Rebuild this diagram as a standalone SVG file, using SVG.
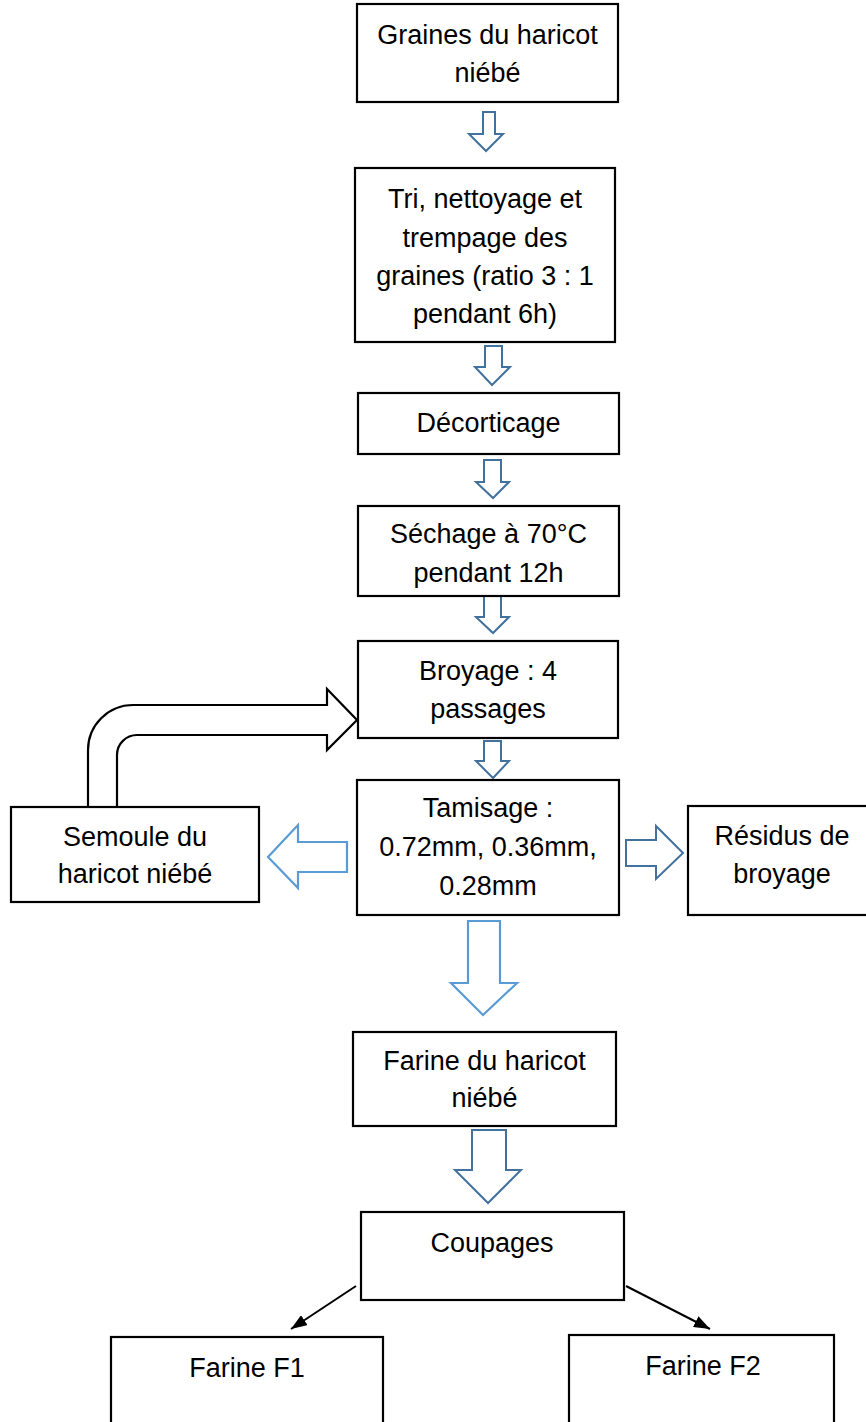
<svg xmlns="http://www.w3.org/2000/svg" width="866" height="1422" viewBox="0 0 866 1422">
<style>
.box{fill:#fff;stroke:#000;stroke-width:2.2}
.t{font-family:"Liberation Sans",Arial,sans-serif;font-size:27px;fill:#000;text-anchor:middle}
.ad{fill:#fff;stroke:#41719C;stroke-width:2}
.al{fill:#fff;stroke:#5B9BD5;stroke-width:2.2}
.bent{fill:#fff;stroke:#000;stroke-width:2.2;stroke-linejoin:miter}
.ln{stroke:#000;stroke-width:2;fill:none}
</style>
<defs>
<marker id="ah" viewBox="0 0 16 12" refX="16" refY="6" markerWidth="16" markerHeight="12" orient="auto" markerUnits="userSpaceOnUse">
<path d="M0,0 L16,6 L0,12 Z" fill="#000"/>
</marker>
</defs>
<rect width="866" height="1422" fill="#fff"/>

<g id="connectors">
<path class="ad" d="M483,112 H495 V134 H503 L486,151 L469,134 H483 Z"/>
<path class="ad" d="M485,346 H502 V367 H510 L492,385 L475,367 H485 Z"/>
<path class="ad" d="M484,460 H501 V482 H509 L493,498 L476,482 H484 Z"/>
<path class="ad" d="M484,596 H501 V617 H509 L493,633 L476,617 H484 Z"/>
<path class="ad" d="M484,741 H501 V761 H509 L493,778 L476,761 H484 Z"/>
<path class="bent" d="M88,807 V750 A45,45 0 0 1 133,705 H327 V689 L357,720 L327,750 V735 H137 A20,20 0 0 0 117,755 V807"/>
<path class="al" d="M347,842 H298 V825 L268,857 L298,888 V872 H347 Z"/>
<path class="ad" d="M626,840 H656 V826 L683,853 L656,879 V866 H626 Z"/>
<path class="al" d="M468,921 H500 V983 H517 L483,1015 L451,983 H468 Z"/>
<path class="ad" d="M472,1130 H506 V1170 H521 L488,1203 L455,1170 H472 Z"/>
<line class="ln" x1="356" y1="1286" x2="291" y2="1329" marker-end="url(#ah)"/>
<line class="ln" x1="626" y1="1286" x2="710" y2="1329" marker-end="url(#ah)"/>
</g>

<g id="n1">
<rect class="box" x="357" y="4" width="261" height="98"/>
<text class="t" x="487.5" y="44">Graines du haricot</text>
<text class="t" x="487.5" y="82">niébé</text>
</g>
<g id="n2">
<rect class="box" x="355" y="168" width="260" height="174"/>
<text class="t" x="485" y="208">Tri, nettoyage et</text>
<text class="t" x="485" y="247">trempage des</text>
<text class="t" x="485" y="285">graines (ratio 3 : 1</text>
<text class="t" x="485" y="323">pendant 6h)</text>
</g>
<g id="n3">
<rect class="box" x="358" y="393" width="261" height="61"/>
<text class="t" x="488.5" y="432">Décorticage</text>
</g>
<g id="n4">
<rect class="box" x="358" y="506" width="261" height="90"/>
<text class="t" x="488.5" y="543">Séchage à 70°C</text>
<text class="t" x="488.5" y="582">pendant 12h</text>
</g>
<g id="n5">
<rect class="box" x="358" y="641" width="260" height="97"/>
<text class="t" x="488" y="680">Broyage : 4</text>
<text class="t" x="488" y="718">passages</text>
</g>
<g id="n6">
<rect class="box" x="357" y="780" width="262" height="135"/>
<text class="t" x="488" y="817">Tamisage :</text>
<text class="t" x="488" y="856">0.72mm, 0.36mm,</text>
<text class="t" x="488" y="895">0.28mm</text>
</g>
<g id="n7">
<rect class="box" x="11" y="807" width="248" height="95"/>
<text class="t" x="135" y="846">Semoule du</text>
<text class="t" x="135" y="883">haricot niébé</text>
</g>
<g id="n8">
<rect class="box" x="688" y="806" width="188" height="109"/>
<text class="t" x="782" y="845">Résidus de</text>
<text class="t" x="782" y="883">broyage</text>
</g>
<g id="n9">
<rect class="box" x="353" y="1032" width="263" height="94"/>
<text class="t" x="484.5" y="1070">Farine du haricot</text>
<text class="t" x="484.5" y="1107">niébé</text>
</g>
<g id="n10">
<rect class="box" x="361" y="1212" width="263" height="88"/>
<text class="t" x="492" y="1252">Coupages</text>
</g>
<g id="n11">
<rect class="box" x="111" y="1337" width="272" height="100"/>
<text class="t" x="247" y="1377">Farine F1</text>
</g>
<g id="n12">
<rect class="box" x="569" y="1335" width="265" height="100"/>
<text class="t" x="703" y="1375">Farine F2</text>
</g>
</svg>
